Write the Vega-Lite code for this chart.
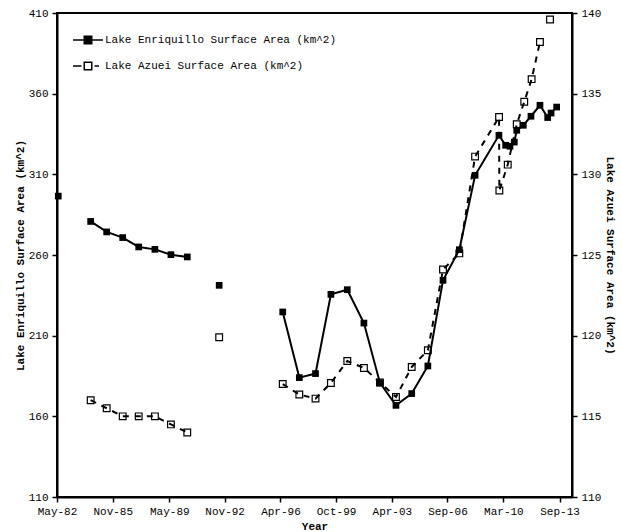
{
  "$schema": "https://vega.github.io/schema/vega-lite/v6.json",
  "width": 515,
  "height": 484,
  "autosize": "none",
  "padding": {"left": 57, "top": 13, "right": 50, "bottom": 35},
  "config": {
    "font": "Liberation Mono",
    "view": {"stroke": "black", "strokeWidth": 2},
    "axis": {
      "grid": false,
      "domainColor": "black",
      "domainWidth": 2,
      "tickColor": "black",
      "tickWidth": 1.5,
      "tickSize": 5,
      "labelPadding": 4,
      "labelOverlap": false,
      "labelFlush": false,
      "labelFont": "Liberation Mono",
      "labelFontSize": 11,
      "labelColor": "black",
      "titleFont": "Liberation Mono",
      "titleFontSize": 11,
      "titleFontWeight": "bold",
      "titleColor": "black"
    },
    "legend": {
      "labelFont": "Liberation Mono",
      "labelFontSize": 11,
      "labelColor": "black",
      "labelLimit": 400,
      "labelOffset": 11,
      "symbolSize": 100,
      "symbolStrokeWidth": 1.5,
      "symbolStrokeColor": "black",
      "symbolOpacity": 1,
      "rowPadding": 12,
      "padding": 0
    }
  },
  "encoding": {
    "x": {
      "field": "date",
      "type": "temporal",
      "title": "Year",
      "scale": {
        "type": "utc",
        "domain": [
          {"year": 1982, "month": 5, "date": 20, "utc": true},
          {"year": 2014, "month": 7, "date": 5, "utc": true}
        ]
      },
      "axis": {
        "format": "%b-%y",
        "labelAngle": 0,
        "labelPadding": 3,
        "labelFlush": false,
        "titlePadding": 4,
        "values": [
          {"year": 1982, "month": 5, "date": 20, "utc": true},
          {"year": 1985, "month": 11, "date": 10, "utc": true},
          {"year": 1989, "month": 5, "date": 22, "utc": true},
          {"year": 1992, "month": 11, "date": 3, "utc": true},
          {"year": 1996, "month": 4, "date": 27, "utc": true},
          {"year": 1999, "month": 10, "date": 16, "utc": true},
          {"year": 2003, "month": 4, "date": 9, "utc": true},
          {"year": 2006, "month": 9, "date": 28, "utc": true},
          {"year": 2010, "month": 3, "date": 25, "utc": true},
          {"year": 2013, "month": 9, "date": 24, "utc": true}
        ]
      }
    }
  },
  "layer": [
    {
      "data": {
        "values": [
          {"date": "1982-06-18", "area": 296.5, "seg": "a"},
          {"date": "1984-06-25", "area": 280.8, "seg": "b"},
          {"date": "1985-06-25", "area": 274.3, "seg": "b"},
          {"date": "1986-06-25", "area": 270.8, "seg": "b"},
          {"date": "1987-06-25", "area": 265.0, "seg": "b"},
          {"date": "1988-06-28", "area": 263.5, "seg": "b"},
          {"date": "1989-06-28", "area": 260.2, "seg": "b"},
          {"date": "1990-07-05", "area": 258.8, "seg": "b"},
          {"date": "1992-07-01", "area": 241.2, "seg": "c"},
          {"date": "1996-06-18", "area": 224.7, "seg": "d"},
          {"date": "1997-07-01", "area": 184.0, "seg": "d"},
          {"date": "1998-07-05", "area": 186.5, "seg": "d"},
          {"date": "1999-06-21", "area": 235.6, "seg": "d"},
          {"date": "2000-06-28", "area": 238.5, "seg": "d"},
          {"date": "2001-07-12", "area": 217.8, "seg": "d"},
          {"date": "2002-07-12", "area": 180.7, "seg": "d"},
          {"date": "2003-07-12", "area": 166.8, "seg": "d"},
          {"date": "2004-07-05", "area": 174.1, "seg": "d"},
          {"date": "2005-07-08", "area": 191.2, "seg": "d"},
          {"date": "2006-06-18", "area": 244.3, "seg": "d"},
          {"date": "2007-06-25", "area": 263.3, "seg": "d"},
          {"date": "2008-06-18", "area": 309.4, "seg": "d"},
          {"date": "2009-12-13", "area": 334.2, "seg": "d"},
          {"date": "2010-05-15", "area": 328.0, "seg": "d"},
          {"date": "2010-08-22", "area": 327.4, "seg": "d"},
          {"date": "2010-11-28", "area": 330.0, "seg": "d"},
          {"date": "2011-01-23", "area": 337.3, "seg": "d"},
          {"date": "2011-06-21", "area": 340.4, "seg": "d"},
          {"date": "2011-12-13", "area": 346.0, "seg": "d"},
          {"date": "2012-07-05", "area": 352.8, "seg": "d"},
          {"date": "2012-12-28", "area": 345.2, "seg": "d"},
          {"date": "2013-03-15", "area": 348.0, "seg": "d"},
          {"date": "2013-07-20", "area": 351.7, "seg": "d"}
        ]
      },
      "encoding": {
        "y": {
          "field": "area",
          "type": "quantitative",
          "title": "Lake Enriquillo Surface Area (km^2)",
          "scale": {"domain": [110, 410], "nice": false, "zero": false},
          "axis": {"orient": "left", "values": [110, 160, 210, 260, 310, 360, 410], "titlePadding": 3}
        }
      },
      "layer": [
        {
          "mark": {"type": "line", "color": "black", "strokeWidth": 2},
          "encoding": {"detail": {"field": "seg"}}
        },
        {
          "mark": {"type": "point", "shape": "square", "filled": true, "color": "black", "size": 45, "opacity": 1}
        }
      ]
    },
    {
      "data": {
        "values": [
          {"date": "1984-06-25", "area": 116.0, "seg": "b"},
          {"date": "1985-06-25", "area": 115.5, "seg": "b"},
          {"date": "1986-06-25", "area": 115.0, "seg": "b"},
          {"date": "1987-06-25", "area": 115.0, "seg": "b"},
          {"date": "1988-06-28", "area": 115.0, "seg": "b"},
          {"date": "1989-06-28", "area": 114.5, "seg": "b"},
          {"date": "1990-07-05", "area": 114.0, "seg": "b"},
          {"date": "1992-07-01", "area": 119.9, "seg": "c"},
          {"date": "1996-06-18", "area": 117.0, "seg": "d"},
          {"date": "1997-07-01", "area": 116.35, "seg": "d"},
          {"date": "1998-07-05", "area": 116.1, "seg": "d"},
          {"date": "1999-06-21", "area": 117.07, "seg": "d"},
          {"date": "2000-06-28", "area": 118.43, "seg": "d"},
          {"date": "2001-07-12", "area": 118.0, "seg": "d"},
          {"date": "2002-07-12", "area": 117.1, "seg": "d"},
          {"date": "2003-07-12", "area": 116.2, "seg": "d"},
          {"date": "2004-07-05", "area": 118.06, "seg": "d"},
          {"date": "2005-07-08", "area": 119.1, "seg": "d"},
          {"date": "2006-06-18", "area": 124.1, "seg": "d"},
          {"date": "2007-06-25", "area": 125.1, "seg": "d"},
          {"date": "2008-06-18", "area": 131.1, "seg": "d"},
          {"date": "2009-12-16", "area": 133.55, "seg": "d"},
          {"date": "2009-12-23", "area": 129.0, "seg": "d"},
          {"date": "2010-07-02", "area": 130.6, "seg": "d"},
          {"date": "2011-01-23", "area": 133.1, "seg": "d"},
          {"date": "2011-07-13", "area": 134.5, "seg": "d"},
          {"date": "2011-12-28", "area": 135.9, "seg": "d"},
          {"date": "2012-07-05", "area": 138.2, "seg": "d"},
          {"date": "2013-02-19", "area": 139.6, "seg": "e"}
        ]
      },
      "encoding": {
        "y": {
          "field": "area",
          "type": "quantitative",
          "title": "Lake Azuei Surface Area (km^2)",
          "scale": {"domain": [110, 140], "nice": false, "zero": false},
          "axis": {"orient": "right", "values": [110, 115, 120, 125, 130, 135, 140], "titlePadding": 4}
        }
      },
      "layer": [
        {
          "mark": {"type": "line", "color": "black", "strokeWidth": 2, "strokeDash": [6, 6]},
          "encoding": {"detail": {"field": "seg"}}
        },
        {
          "mark": {"type": "point", "shape": "square", "filled": false, "color": "black", "strokeWidth": 1.2, "size": 45, "opacity": 1}
        }
      ]
    },
    {
      "data": {
        "values": [
          {"lake": "Lake Enriquillo Surface Area (km^2)"},
          {"lake": "Lake Azuei Surface Area (km^2)"}
        ]
      },
      "transform": [{"filter": "false"}],
      "mark": {"type": "point", "filled": true, "opacity": 1, "strokeWidth": 1.5},
      "encoding": {
        "shape": {
          "field": "lake",
          "type": "nominal",
          "scale": {
            "domain": ["Lake Enriquillo Surface Area (km^2)", "Lake Azuei Surface Area (km^2)"],
            "range": ["M-3,0H3M-0.75,-0.75H0.75V0.75H-0.75Z", "M-3,0H-1.3M1.3,0H2.2M-0.75,-0.75H0.75V0.75H-0.75Z"]
          },
          "legend": {"title": null, "orient": "none", "legendX": 25, "legendY": 21}
        },
        "fill": {
          "field": "lake",
          "type": "nominal",
          "scale": {
            "domain": ["Lake Enriquillo Surface Area (km^2)", "Lake Azuei Surface Area (km^2)"],
            "range": ["black", "white"]
          },
          "legend": {"title": null, "orient": "none", "legendX": 25, "legendY": 21}
        },
        "stroke": {
          "field": "lake",
          "type": "nominal",
          "scale": {
            "domain": ["Lake Enriquillo Surface Area (km^2)", "Lake Azuei Surface Area (km^2)"],
            "range": ["black", "black"]
          },
          "legend": {"title": null, "orient": "none", "legendX": 25, "legendY": 21}
        }
      }
    }
  ],
  "resolve": {"scale": {"y": "independent"}}
}
